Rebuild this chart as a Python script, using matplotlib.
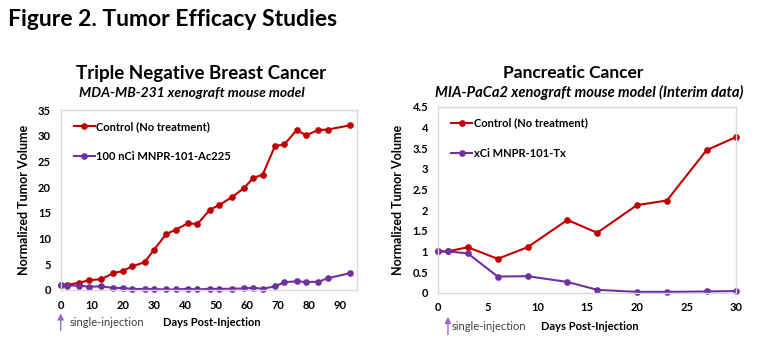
import numpy as np
import matplotlib.pyplot as plt
from matplotlib.ticker import FormatStrFormatter

plt.rcParams['font.family'] = ['Lato', 'DejaVu Sans']

# Triple negative breast cancer (MDA-MB-231)
tn_days = [0, 2, 6, 9, 13, 17, 20, 23, 27, 30, 34, 37, 41, 44, 48, 51, 55, 59, 62, 65, 69, 72, 76, 79, 83, 86, 93]
tn_control = [1.0, 1.0, 1.4, 1.9, 2.1, 3.3, 3.7, 4.6, 5.4, 7.8, 10.9, 11.7, 13.0, 12.8, 15.6, 16.5, 18.0, 19.8,
              21.8, 22.4, 28.0, 28.3, 31.1, 30.1, 31.1, 31.2, 32.0]
tn_treated = [1.0, 0.85, 0.85, 0.65, 0.7, 0.4, 0.4, 0.2, 0.2, 0.2, 0.1, 0.1, 0.25, 0.1, 0.25, 0.2, 0.25, 0.3,
              0.45, 0.25, 0.7, 1.5, 1.7, 1.55, 1.6, 2.3, 3.25]

# Pancreatic cancer (MIA-PaCa2)
pc_days = [0, 1, 3, 6, 9, 13, 16, 20, 23, 27, 30]
pc_control = [1.0, 1.0, 1.1, 0.82, 1.1, 1.76, 1.45, 2.12, 2.23, 3.45, 3.77]
pc_treated = [1.0, 1.0, 0.95, 0.39, 0.40, 0.26, 0.07, 0.02, 0.02, 0.03, 0.04]

red = '#C00000'
purple = '#7030A0'
spine_col = '#D9D9D9'

fig = plt.figure(figsize=(7.65, 3.44), dpi=100)
fig.text(8 / 765, 1 - 19 / 344, 'Figure 2. Tumor Efficacy Studies', fontsize=16.5, fontweight='bold',
         va='center', ha='left')


def setup(ax, xmax, ymax, ystep, inj_day):
    ax.set_xlim(0, xmax)
    ax.set_ylim(0, ymax)
    ax.set_yticks(np.arange(0, ymax + ystep / 2, ystep))
    ax.yaxis.set_major_formatter(FormatStrFormatter('%g'))
    for s in ax.spines.values():
        s.set_color(spine_col)
        s.set_linewidth(1)
    ax.tick_params(length=0, labelsize=8, pad=7)
    for t in ax.get_xticklabels() + ax.get_yticklabels():
        t.set_fontweight('bold')
    ax.set_ylabel('Normalized Tumor Volume', fontsize=9, fontweight='bold', labelpad=6)
    leg = ax.legend(loc='upper left', bbox_to_anchor=(0.01, 0.995), frameon=False, fontsize=8,
                    labelspacing=1.75, handlelength=1.9, handletextpad=0.15)
    for t in leg.get_texts():
        t.set_fontweight('bold')
    ax.annotate('', xy=(inj_day, -0.13), xytext=(inj_day, -0.225),
                xycoords=('data', 'axes fraction'), textcoords=('data', 'axes fraction'),
                arrowprops=dict(arrowstyle='-|>', color='#9966CC', lw=1, mutation_scale=9,
                                shrinkA=0, shrinkB=0),
                annotation_clip=False)


ax1 = fig.add_axes([60.7 / 765, 1 - 290 / 344, (357.3 - 60.7) / 765, 180 / 344])
ax1.plot(tn_days, tn_control, color=red, marker='o', ms=3.8, lw=1.5, label='Control (No treatment)', clip_on=False)
ax1.plot(tn_days, tn_treated, color=purple, marker='o', ms=3.8, lw=1.5, label='100 nCi MNPR-101-Ac225', clip_on=False)
ax1.set_xticks(np.arange(0, 91, 10))
setup(ax1, 95.5, 35, 5, 0)

ax2 = fig.add_axes([438 / 765, 1 - 292.7 / 344, (736.5 - 438) / 765, 186 / 344])
ax2.plot(pc_days, pc_control, color=red, marker='o', ms=3.8, lw=1.5, label='Control (No treatment)', clip_on=False)
ax2.plot(pc_days, pc_treated, color=purple, marker='o', ms=3.8, lw=1.5, label='xCi MNPR-101-Tx', clip_on=False)
ax2.set_xticks(np.arange(0, 31, 5))
setup(ax2, 30, 4.5, 0.5, 1)

# titles
fig.text(201 / 765, 1 - 73 / 344, 'Triple Negative Breast Cancer', fontsize=13.5, fontweight='bold', ha='center', va='center')
fig.text(192 / 765, 1 - 93 / 344, 'MDA-MB-231 xenograft mouse model', fontsize=10, fontweight='bold',
         style='italic', ha='center', va='center')
fig.text(573 / 765, 1 - 73 / 344, 'Pancreatic Cancer', fontsize=12.5, fontweight='bold', ha='center', va='center')
fig.text(589 / 765, 1 - 92 / 344, 'MIA-PaCa2 xenograft mouse model (Interim data)', fontsize=10.5, fontweight='bold',
         style='italic', ha='center', va='center')

# bottom labels
fig.text(70 / 765, 1 - 323 / 344, 'single-injection', fontsize=8, color='#404040', ha='left', va='center')
fig.text(163 / 765, 1 - 323 / 344, 'Days Post-Injection', fontsize=8, fontweight='bold', ha='left', va='center')
fig.text(452 / 765, 1 - 326 / 344, 'single-injection', fontsize=8, color='#404040', ha='left', va='center')
fig.text(541 / 765, 1 - 326 / 344, 'Days Post-Injection', fontsize=8, fontweight='bold', ha='left', va='center')

fig.savefig('out.png', dpi=100)
